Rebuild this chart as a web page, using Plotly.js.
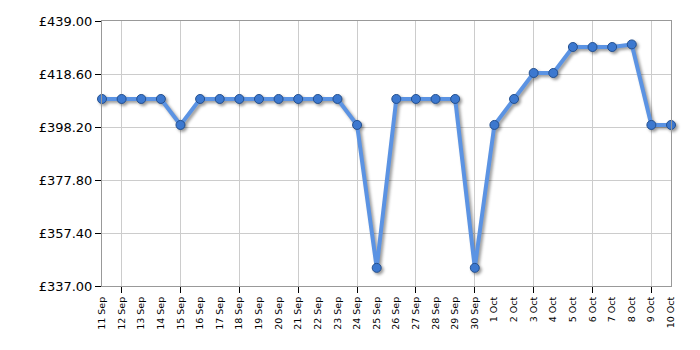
<!DOCTYPE html>
<html><head><meta charset="utf-8">
<script src="https://cdn.plot.ly/plotly-3.0.1.min.js"></script>
<style>
body{margin:0;background:#fff}
#chart{width:700px;height:350px}
.scatterlayer .trace{filter:drop-shadow(2px 2px 1.5px rgba(0,0,0,0.4))}
</style></head>
<body><div id="chart"></div>
<script>
const dates = ["11 Sep","12 Sep","13 Sep","14 Sep","15 Sep","16 Sep","17 Sep","18 Sep","19 Sep","20 Sep","21 Sep","22 Sep","23 Sep","24 Sep","25 Sep","26 Sep","27 Sep","28 Sep","29 Sep","30 Sep","1 Oct","2 Oct","3 Oct","4 Oct","5 Oct","6 Oct","7 Oct","8 Oct","9 Oct","10 Oct"];
const prices = [408.99,408.99,408.99,408.99,398.99,408.99,408.99,408.99,408.99,408.99,408.99,408.99,408.99,398.99,343.99,408.99,408.99,408.99,408.99,343.99,398.99,408.99,418.99,418.99,428.99,428.99,428.99,429.99,398.99,398.99];
const yTicks = [337.00,357.40,377.80,398.20,418.60,439.00];

const idx = dates.map((d,i)=>i);
const trace = {
  x: idx, y: prices, type:'scatter', mode:'lines+markers',
  line:{color:'#5b93e3', width:4},
  marker:{size:9, color:'#3c78cf', line:{color:'#24508f', width:1}},
  cliponaxis:false, hoverinfo:'skip'
};
const layout = {
  width:700, height:350,
  margin:{l:102, r:29, t:21, b:64},
  paper_bgcolor:'#fff', plot_bgcolor:'#fff',
  showlegend:false,
  font:{family:'DejaVu Sans, Verdana, sans-serif', color:'#000'},
  xaxis:{
    range:[0, dates.length-1], tickmode:'array', tickvals:idx, ticktext:dates,
    tickangle:-90, tickfont:{size:9.5}, ticks:'outside', ticklen:6, tickcolor:'rgba(0,0,0,0)',
    showgrid:false, zeroline:false,
    showline:true, linecolor:'#999', linewidth:1, mirror:true,
    minor:{tickmode:'array', tickvals:idx.filter(i=>i%3===1), ticks:'outside', ticklen:6, tickcolor:'#000', showgrid:true, gridcolor:'#cccccc', gridwidth:1}
  },
  yaxis:{
    range:[yTicks[0], yTicks[yTicks.length-1]], tickmode:'array', tickvals:yTicks,
    ticktext:yTicks.map(v=>'£'+v.toFixed(2)), tickfont:{size:13},
    ticks:'outside', ticklen:6, tickcolor:'#000', showgrid:true, gridcolor:'#cccccc',
    zeroline:false, showline:true, linecolor:'#999', linewidth:1, mirror:true
  }
};
Plotly.newPlot('chart',[trace],layout,{displayModeBar:false, staticPlot:true});
</script></body></html>
